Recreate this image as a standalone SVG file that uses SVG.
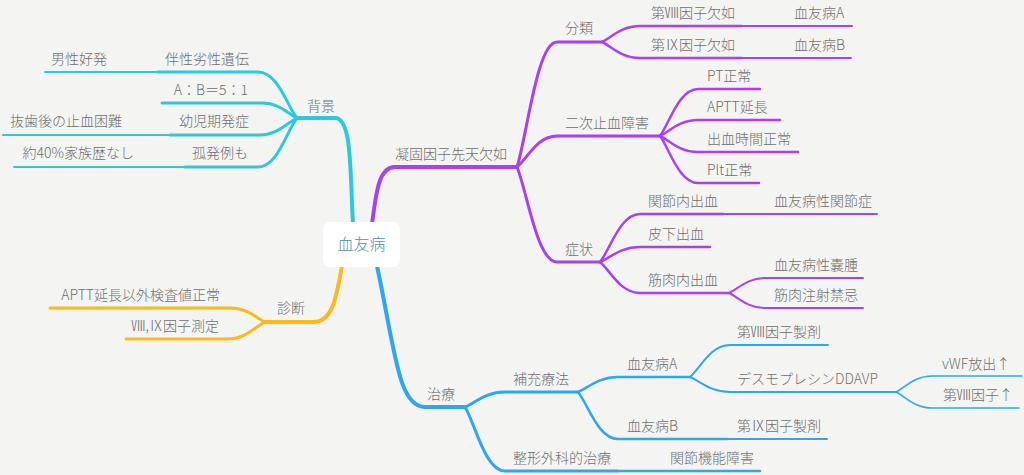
<svg xmlns="http://www.w3.org/2000/svg" width="1024" height="475" viewBox="0 0 1024 475">
<style>
text{font-family:"Noto Sans CJK JP","Noto Sans",sans-serif;font-size:14px;font-weight:300;fill:#6e6e6e}
.e{text-anchor:end}
path{fill:none;stroke-linecap:round;stroke-linejoin:round}
.c{stroke:#2ec8dc}.y{stroke:#fcb81c}.p{stroke:#ac3ff0}.b{stroke:#2ea5f5}
.w1{stroke-width:4}.w2{stroke-width:3}.w3{stroke-width:2.5}.w4{stroke-width:2}.w5{stroke-width:1.6}
</style>
<rect width="1024" height="475" fill="#f4f5f3"/>
<g id="connectors">
<path class="c w1" d="M353 224 C350 170 352 118 335 118 L297 118"/>
<path class="c w2" d="M297 118 C287 106 278 72 258 72 L158 72"/>
<path class="c w4" d="M158 72 L45 72"/>
<path class="c w2" d="M297 118 C288 114 280 103 262 103 L162 103"/>
<path class="c w2" d="M297 118 C288 122 278 135 260 135 L170 135"/>
<path class="c w4" d="M170 135 L3 135"/>
<path class="c w2" d="M297 118 C287 130 278 167 258 167 L185 167"/>
<path class="c w4" d="M185 167 L14 167"/>
<path class="y w1" d="M342 266 C336 300 332 322 313 322 L265 322"/>
<path class="y w2" d="M265 322 C256 318 248 308 230 308 L50 308"/>
<path class="y w2" d="M265 322 C256 326 246 339 228 339 L126 339"/>
<path class="p w1" d="M372 224 C376 195 378 167 395 167 L517 167"/>
<path class="p w2" d="M517 167 C527 136 537 42 557 42 L602 42"/>
<path class="p w3" d="M602 42 C611 38 621 26 640 26 L742 26"/>
<path class="p w4" d="M742 26 L852 26"/>
<path class="p w3" d="M602 42 C611 46 621 58 640 58 L742 58"/>
<path class="p w4" d="M742 58 L851 58"/>
<path class="p w2" d="M517 167 C527 159 537 136 557 136 L660 136"/>
<path class="p w3" d="M660 136 C669 124 679 89 698 89 L760 89"/>
<path class="p w3" d="M660 136 C669 132 679 120 698 120 L780 120"/>
<path class="p w3" d="M660 136 C669 140 679 152 698 152 L798 152"/>
<path class="p w3" d="M660 136 C669 148 679 183 698 183 L759 183"/>
<path class="p w2" d="M517 167 C527 191 537 262 557 262 L600 262"/>
<path class="p w3" d="M600 262 C610 250 620 214 640 214 L723 214"/>
<path class="p w4" d="M723 214 L877 214"/>
<path class="p w3" d="M600 262 C610 258 620 247 640 247 L710 247"/>
<path class="p w3" d="M600 262 C610 270 620 293 640 293 L729 293"/>
<path class="p w4" d="M729 293 C738 289 747 278 765 278 L863 278"/>
<path class="p w4" d="M729 293 C738 297 747 308 765 308 L863 308"/>
<path class="b w1" d="M377 266 C395 350 398 407 425 407 L465 407"/>
<path class="b w2" d="M465 407 C475 403 485 392 505 392 L578 392"/>
<path class="b w3" d="M578 392 C588 388 598 377 618 377 L690 377"/>
<path class="b w4" d="M690 377 C700 369 710 345 730 345 L828 345"/>
<path class="b w4" d="M690 377 C700 381 710 392 730 392 L895 392"/>
<path class="b w5" d="M896 392 C905 388 914 376 932 376 L1022 376"/>
<path class="b w5" d="M896 392 C905 396 914 408 932 408 L1019 408"/>
<path class="b w3" d="M578 392 C588 404 598 439 618 439 L727 439"/>
<path class="b w4" d="M727 439 L827 439"/>
<path class="b w2" d="M465 407 C475 423 485 471 505 471 L617 471"/>
<path class="b w3" d="M617 471 L760 471"/>
</g>
<g id="center"><rect x="323" y="222" width="77" height="45" rx="7" fill="#ffffff"/><text x="361.5" y="250" text-anchor="middle" style="font-size:16px;fill:#4f93ad">血友病</text></g>
<g id="n-haikei"><text x="307" y="111">背景</text></g>
<g id="n-bansei"><text class="e" x="249" y="64">伴性劣性遺伝</text></g>
<g id="n-dansei"><text class="e" x="107" y="64">男性好発</text></g>
<g id="n-ab"><text class="e" x="248" y="95">A：B＝5：1</text></g>
<g id="n-youji"><text class="e" x="249" y="126">幼児期発症</text></g>
<g id="n-basshi"><text class="e" x="122" y="126">抜歯後の止血困難</text></g>
<g id="n-kohatsu"><text class="e" x="248" y="158">孤発例も</text></g>
<g id="n-kazoku"><text class="e" x="134" y="158">約40%家族歴なし</text></g>
<g id="n-shindan"><text x="277" y="313">診断</text></g>
<g id="n-aptt2"><text class="e" x="220" y="300">APTT延長以外検査値正常</text></g>
<g id="n-sokutei"><text class="e" x="219" y="331">Ⅷ,Ⅸ因子測定</text></g>
<g id="n-gyoko"><text x="395" y="159">凝固因子先天欠如</text></g>
<g id="n-bunrui"><text x="565" y="33">分類</text></g>
<g id="n-f8"><text x="651" y="18">第Ⅷ因子欠如</text></g>
<g id="n-ha"><text x="794" y="18">血友病A</text></g>
<g id="n-f9"><text x="651" y="50">第Ⅸ因子欠如</text></g>
<g id="n-hb"><text x="794" y="50">血友病B</text></g>
<g id="n-niji"><text x="565" y="128">二次止血障害</text></g>
<g id="n-pt"><text x="707" y="81">PT正常</text></g>
<g id="n-aptt"><text x="707" y="112">APTT延長</text></g>
<g id="n-bt"><text x="707" y="144">出血時間正常</text></g>
<g id="n-plt"><text x="707" y="175">Plt正常</text></g>
<g id="n-shojo"><text x="565" y="254">症状</text></g>
<g id="n-kansetsu"><text x="648" y="206">関節内出血</text></g>
<g id="n-kansetsusho"><text x="774" y="206">血友病性関節症</text></g>
<g id="n-hika"><text x="648" y="239">皮下出血</text></g>
<g id="n-kinniku"><text x="648" y="285">筋肉内出血</text></g>
<g id="n-noshu"><text x="774" y="270">血友病性嚢腫</text></g>
<g id="n-kinki"><text x="774" y="300">筋肉注射禁忌</text></g>
<g id="n-chiryo"><text x="427" y="399">治療</text></g>
<g id="n-hoju"><text x="513" y="384">補充療法</text></g>
<g id="n-tha"><text x="627" y="369">血友病A</text></g>
<g id="n-f8p"><text x="737" y="337">第Ⅷ因子製剤</text></g>
<g id="n-ddavp"><text x="737" y="384">デスモプレシンDDAVP</text></g>
<g id="n-vwf"><text x="942" y="369">vWF放出↑</text></g>
<g id="n-f8up"><text x="943" y="400">第Ⅷ因子↑</text></g>
<g id="n-thb"><text x="627" y="431">血友病B</text></g>
<g id="n-f9p"><text x="737" y="431">第Ⅸ因子製剤</text></g>
<g id="n-seikei"><text x="513" y="463">整形外科的治療</text></g>
<g id="n-kinou"><text x="670" y="463">関節機能障害</text></g>
</svg>
